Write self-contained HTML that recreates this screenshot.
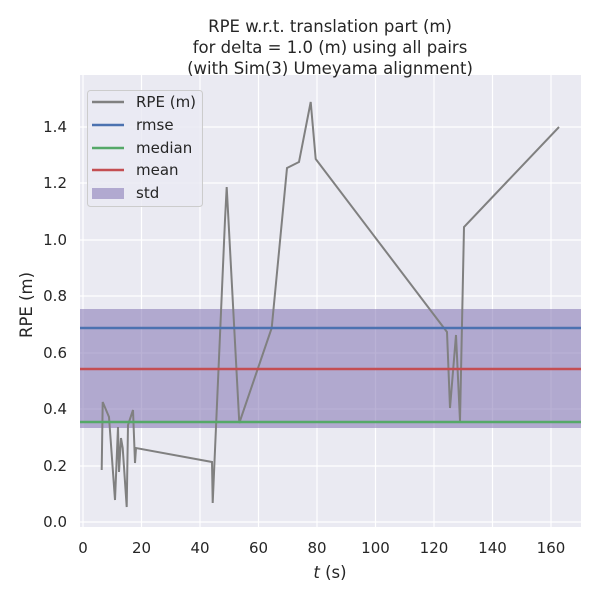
<!DOCTYPE html>
<html><head><style>body{margin:0;background:#fff}</style></head><body>
<svg width="600" height="600" xmlns="http://www.w3.org/2000/svg" font-family="'DejaVu Sans', 'Liberation Sans', sans-serif">
<rect width="600" height="600" fill="#fff"/>
<rect x="80" y="75" width="501" height="452" fill="#eaeaf2"/>
<g stroke="#fff" stroke-width="1.2">
<line x1="83" y1="75" x2="83" y2="527"/><line x1="141.5" y1="75" x2="141.5" y2="527"/><line x1="200" y1="75" x2="200" y2="527"/><line x1="258.5" y1="75" x2="258.5" y2="527"/><line x1="317" y1="75" x2="317" y2="527"/><line x1="375.5" y1="75" x2="375.5" y2="527"/><line x1="434" y1="75" x2="434" y2="527"/><line x1="492.5" y1="75" x2="492.5" y2="527"/><line x1="551" y1="75" x2="551" y2="527"/>
<line x1="80" y1="522" x2="581" y2="522"/><line x1="80" y1="466" x2="581" y2="466"/><line x1="80" y1="409" x2="581" y2="409"/><line x1="80" y1="353" x2="581" y2="353"/><line x1="80" y1="296" x2="581" y2="296"/><line x1="80" y1="240" x2="581" y2="240"/><line x1="80" y1="183" x2="581" y2="183"/><line x1="80" y1="127" x2="581" y2="127"/>
</g>
<rect x="80" y="309" width="501" height="119" fill="#8172b3" fill-opacity="0.55"/>
<polyline fill="none" stroke="#808080" stroke-width="2" points="101.7,470 102.7,402 109,417 115,500 118,427 119,472 121,438 122.7,448 126.7,507 128,425 133,410 135,463 136,448 212,462 212.7,503 225,220 226.7,187 239.3,423 271.7,328 287,168 299,162 310.7,102 315.7,159 447,332 450,408 456,335 460,421 464,227 559,127"/>
<line x1="80" y1="328" x2="581" y2="328" stroke="#4c72b0" stroke-width="2.5"/>
<line x1="80" y1="369" x2="581" y2="369" stroke="#c44e52" stroke-width="2.5"/>
<line x1="80" y1="422" x2="581" y2="422" stroke="#55a868" stroke-width="2.5"/>
<rect x="87.5" y="90.5" width="115" height="116" rx="3" fill="#eaeaf2" fill-opacity="0.8" stroke="#ccc"/>
<g stroke-width="2.5"><line x1="92" y1="102" x2="124" y2="102" stroke="#808080"/><line x1="92" y1="125" x2="124" y2="125" stroke="#4c72b0"/><line x1="92" y1="148" x2="124" y2="148" stroke="#55a868"/><line x1="92" y1="170" x2="124" y2="170" stroke="#c44e52"/></g>
<rect x="92" y="188" width="32" height="11" fill="#8172b3" fill-opacity="0.55"/>
<g font-size="15" fill="#262626"><text x="136" y="107">RPE (m)</text><text x="136" y="130">rmse</text><text x="136" y="153">median</text><text x="136" y="175">mean</text><text x="136" y="198">std</text></g>
<g font-size="15" fill="#262626" text-anchor="middle"><text x="83" y="553">0</text><text x="141.5" y="553">20</text><text x="200" y="553">40</text><text x="258.5" y="553">60</text><text x="317" y="553">80</text><text x="375.5" y="553">100</text><text x="434" y="553">120</text><text x="492.5" y="553">140</text><text x="551" y="553">160</text></g>
<g font-size="15" fill="#262626" text-anchor="end"><text x="67" y="527">0.0</text><text x="67" y="471">0.2</text><text x="67" y="414">0.4</text><text x="67" y="358">0.6</text><text x="67" y="301">0.8</text><text x="67" y="245">1.0</text><text x="67" y="188">1.2</text><text x="67" y="132">1.4</text></g>
<text x="330" y="578" font-size="16.5" fill="#262626" text-anchor="middle"><tspan font-style="italic">t</tspan> (s)</text>
<text transform="translate(32,305) rotate(-90)" font-size="16.5" fill="#262626" text-anchor="middle">RPE (m)</text>
<g font-size="16.5" fill="#262626" text-anchor="middle"><text x="330" y="32">RPE w.r.t. translation part (m)</text><text x="330" y="53">for delta = 1.0 (m) using all pairs</text><text x="330" y="74">(with Sim(3) Umeyama alignment)</text></g>
</svg>
</body></html>
